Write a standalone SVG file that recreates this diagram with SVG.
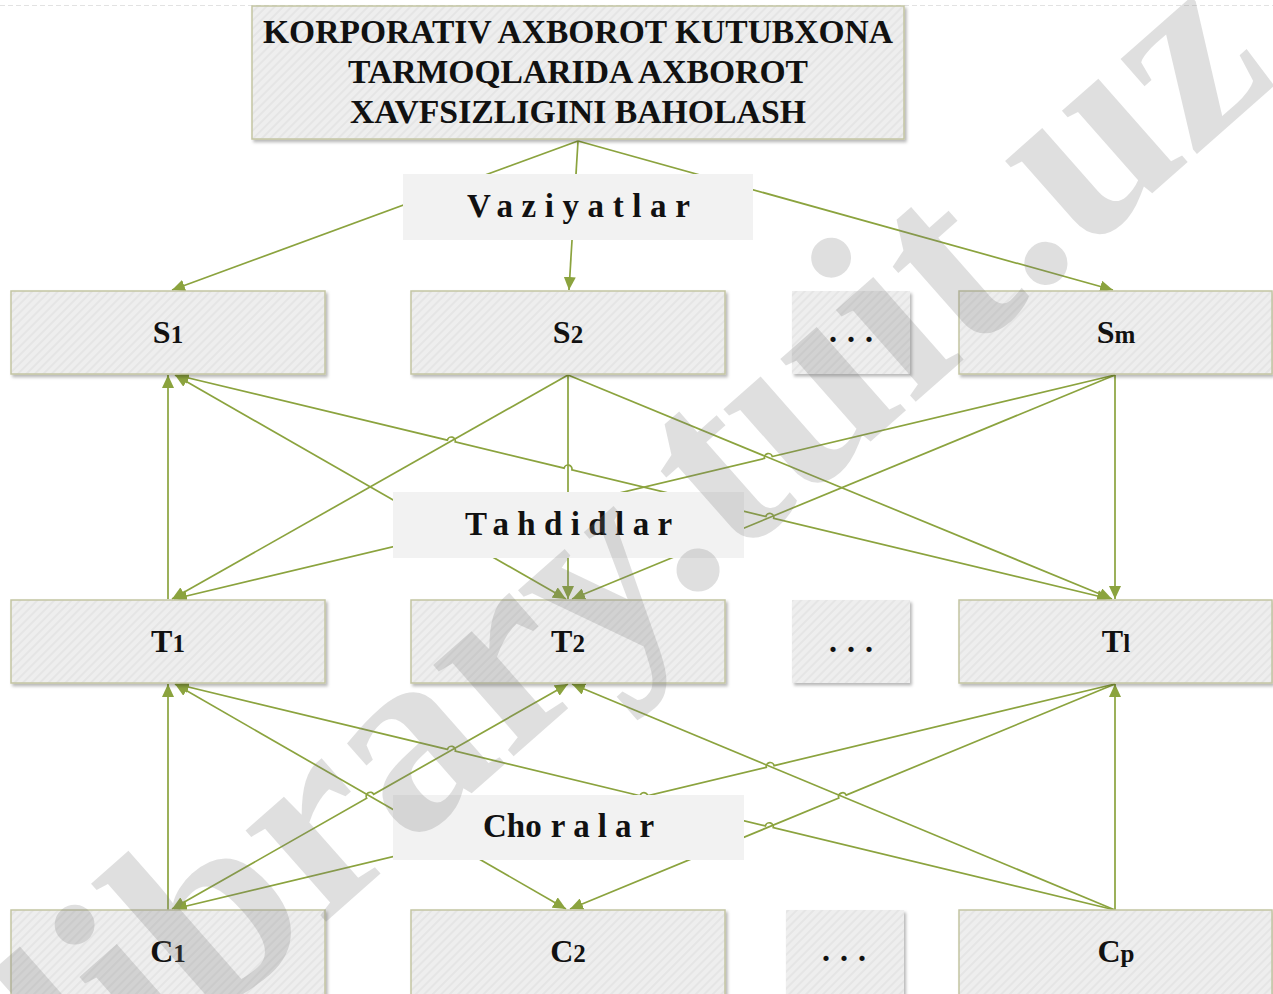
<svg xmlns="http://www.w3.org/2000/svg" width="1273" height="994" viewBox="0 0 1273 994">
  <defs>
    <pattern id="hatch" width="6" height="6" patternUnits="userSpaceOnUse" patternTransform="rotate(45)">
      <rect width="6" height="6" fill="#eeeeee"/>
      <rect width="2" height="6" fill="#e5e5e5"/>
    </pattern>
    <filter id="shadow" x="-5%" y="-10%" width="115%" height="130%">
      <feDropShadow dx="2" dy="2.5" stdDeviation="1.5" flood-color="#000" flood-opacity="0.28"/>
    </filter>
    <marker id="arrow" viewBox="0 0 13 12" refX="13" refY="6" markerWidth="13" markerHeight="12" markerUnits="userSpaceOnUse" orient="auto-start-reverse">
      <path d="M0,0 L13,6 L0,12 z" fill="#8ba33e"/>
    </marker>
  </defs>
  <style>
    text { font-family: "Liberation Serif", "Times New Roman", serif; font-weight: bold; fill: #111; }
    .node rect { fill: url(#hatch); stroke: #c3c5a3; stroke-width: 1.5; filter: url(#shadow); }
    .gap rect { fill: url(#hatch); filter: url(#shadow); }
    .node text, .gap text { font-size: 32px; }
    .title text { font-size: 34px; }
    .idx { font-size: 25px; }
    .label rect { fill: #f2f2f2; }
    .label text { font-size: 33px; }
    .edges path { fill: none; stroke: #8ba33e; stroke-width: 1.7; }
    .head { marker-end: url(#arrow); }
    .tail { marker-start: url(#arrow); }
    .both { marker-start: url(#arrow); marker-end: url(#arrow); }
    .watermark { font-family: "Liberation Serif", "Times New Roman", serif; font-weight: bold; font-size: 265px; fill: #7a7a7a; fill-opacity: 0.24; }
  </style>

  <rect width="1273" height="994" fill="#ffffff"/>
  <line x1="0" y1="5.5" x2="1273" y2="5.5" stroke="#e2e2e2" stroke-width="1" stroke-dasharray="5 3"/>

  <!-- connectors (hop arcs where lines cross) -->
  <g id="connectors" class="edges">
    <!-- title to situations -->
    <path class="head" d="M578,141 L172,290"/>
    <path class="head" d="M578,141 L569,290"/>
    <path class="head" d="M578,141 L1113,290"/>

    <!-- situations <-> threats -->
    <path class="head" d="M168,599 L168,375"/>
    <path class="both" d="M175,375 L566,599"/>
    <path class="both" d="M176,375 L447.4,440.1 A4,4 0 0 1 455.2,441.9 L564.1,468.1 A4,4 0 0 1 571.9,469.9 L765.9,516.5 A4,4 0 0 1 773.7,518.3 L1110,599"/>
    <path class="head" d="M568,375 L172,599"/>
    <path class="head" d="M568,375 L568,599"/>
    <path class="head" d="M568,375 L1112,599"/>
    <path class="tail" d="M174,599 L764.5,458.4 A4,4 0 0 1 772.3,456.6 L1115,375"/>
    <path class="head" d="M1115,375 L572,599"/>
    <path class="head" d="M1115,375 L1115,599"/>

    <!-- threats <-> measures -->
    <path class="head" d="M168,910 L168,684"/>
    <path class="both" d="M175,684 L566,909"/>
    <path class="tail" d="M176,684 L447.5,749.4 A4,4 0 0 1 455.3,751.2 L640.1,795.8 A4,4 0 0 1 647.9,797.6 L765.4,825.9 A4,4 0 0 1 773.2,827.7 L1115,910"/>
    <path class="both" d="M172,909 L366.7,798.3 A4,4 0 0 1 373.7,794.3 L568,684"/>
    <path class="head" d="M1115,910 L572,684"/>
    <path class="tail" d="M174,909 L766.3,767.4 A4,4 0 0 1 774.1,765.6 L1115,684"/>
    <path class="tail" d="M570,909 L838.8,798.1 A4,4 0 0 1 846.2,795.1 L1115,684"/>
    <path class="head" d="M1115,910 L1115,684"/>
  </g>

  <!-- section labels -->
  <g id="label-vaziyatlar" class="label">
    <rect x="403" y="174" width="350" height="66"/>
    <text x="467" y="217" letter-spacing="8.6">Vaziyatlar</text>
  </g>
  <g id="label-tahdidlar" class="label">
    <rect x="393" y="492" width="351" height="66"/>
    <text x="465" y="535" letter-spacing="8.4">Tahdidlar</text>
  </g>
  <g id="label-choralar" class="label">
    <rect x="393" y="795" width="351" height="65"/>
    <text x="483" y="837">Cho<tspan dx="9" letter-spacing="8">ralar</tspan></text>
  </g>

  <!-- title -->
  <g id="title" class="node title">
    <rect x="252" y="6" width="652" height="133"/>
    <text x="263" y="43" textLength="630" lengthAdjust="spacingAndGlyphs">KORPORATIV AXBOROT KUTUBXONA</text>
    <text x="348" y="83" textLength="460" lengthAdjust="spacingAndGlyphs">TARMOQLARIDA AXBOROT</text>
    <text x="350" y="123" textLength="456" lengthAdjust="spacingAndGlyphs">XAVFSIZLIGINI BAHOLASH</text>
  </g>

  <!-- situations -->
  <g id="S1" class="node">
    <rect x="11" y="291" width="314" height="83"/>
    <text x="168" y="343" text-anchor="middle">S<tspan class="idx">1</tspan></text>
  </g>
  <g id="S2" class="node">
    <rect x="411" y="291" width="314" height="83"/>
    <text x="568" y="343" text-anchor="middle">S<tspan class="idx">2</tspan></text>
  </g>
  <g id="S-more" class="gap">
    <rect x="792" y="291" width="118" height="83"/>
    <text x="829" y="342" letter-spacing="10">...</text>
  </g>
  <g id="Sm" class="node">
    <rect x="959" y="291" width="313" height="83"/>
    <text x="1116" y="343" text-anchor="middle">S<tspan class="idx">m</tspan></text>
  </g>

  <!-- threats -->
  <g id="T1" class="node">
    <rect x="11" y="600" width="314" height="83"/>
    <text x="168" y="652" text-anchor="middle">T<tspan class="idx">1</tspan></text>
  </g>
  <g id="T2" class="node">
    <rect x="411" y="600" width="314" height="83"/>
    <text x="568" y="652" text-anchor="middle">T<tspan class="idx">2</tspan></text>
  </g>
  <g id="T-more" class="gap">
    <rect x="792" y="600" width="118" height="83"/>
    <text x="829" y="652" letter-spacing="10">...</text>
  </g>
  <g id="Tl" class="node">
    <rect x="959" y="600" width="313" height="83"/>
    <text x="1116" y="652" text-anchor="middle">T<tspan class="idx">l</tspan></text>
  </g>

  <!-- measures -->
  <g id="C1" class="node">
    <rect x="11" y="910" width="314" height="86"/>
    <text x="168" y="962" text-anchor="middle">C<tspan class="idx">1</tspan></text>
  </g>
  <g id="C2" class="node">
    <rect x="411" y="910" width="314" height="86"/>
    <text x="568" y="962" text-anchor="middle">C<tspan class="idx">2</tspan></text>
  </g>
  <g id="C-more" class="gap">
    <rect x="786" y="910" width="118" height="86"/>
    <text x="822" y="961" letter-spacing="10">...</text>
  </g>
  <g id="Cp" class="node">
    <rect x="959" y="910" width="313" height="86"/>
    <text x="1116" y="962" text-anchor="middle">C<tspan class="idx">p</tspan></text>
  </g>

  <!-- site watermark -->
  <text class="watermark" transform="translate(717,577) rotate(-41.4)" x="-823" y="0">library.tuit.uz</text>
</svg>
